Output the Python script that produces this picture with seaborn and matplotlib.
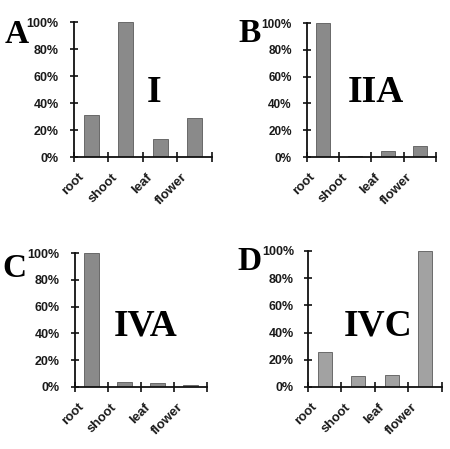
import matplotlib
matplotlib.use("Agg")
import matplotlib.pyplot as plt
import matplotlib.transforms as mtrans
import seaborn as sns
import pandas as pd

sns.set_style("white")
plt.rcParams['font.family'] = ['Liberation Sans', 'DejaVu Sans']
plt.rcParams['text.color'] = 'black'
plt.rcParams['xtick.color'] = '#111111'
plt.rcParams['ytick.color'] = '#111111'

tissues = ["root", "shoot", "leaf", "flower"]
vals_I = [31, 100, 13, 29]
vals_IIA = [100, 0.5, 4.5, 8.5]
vals_IVA = [100, 3.5, 3, 1.5]
vals_IVC = [26, 8, 9, 100]
letters = ["A", "B", "C", "D"]
names = ["I", "IIA", "IVA", "IVC"]
yticks = [0, 20, 40, 60, 80, 100]

panels = [vals_I, vals_IIA, vals_IVA, vals_IVC]
rects = [(0.1644, 0.6503, 0.3067, 0.3007),
         (0.6822, 0.6503, 0.2867, 0.2984),
         (0.1667, 0.1381, 0.2933, 0.2984),
         (0.6844, 0.1381, 0.2978, 0.3029)]
colors = ["#8a8a8a", "#8a8a8a", "#8a8a8a", "#a2a2a2"]
fsizes = [9, 8.5, 9, 9]
pads = [8, 8, 8, 7]
letter_pos = [(5, 43), (238, 42), (2, 277), (237, 270)]
name_pos = [(147, 102), (348, 102), (114, 335), (344, 335)]

W, H = 450, 449
fig = plt.figure(figsize=(4.5, 4.49), dpi=100)

for i, vals in enumerate(panels):
    ax = fig.add_axes(rects[i])
    df = pd.DataFrame({"tissue": tissues, "value": vals})
    sns.barplot(data=df, x="tissue", y="value", ax=ax, color=colors[i],
                edgecolor="#5a5a5a", linewidth=0.6, width=0.43, saturation=1)
    ax.set_xlim(-0.5, 3.5)
    ax.set_ylim(0, 100)
    ax.set_xlabel("")
    ax.set_ylabel("")
    for s in ["top", "right"]:
        ax.spines[s].set_visible(False)
    for s in ["left", "bottom"]:
        ax.spines[s].set_color("#111111")
        ax.spines[s].set_linewidth(1.3)
    fs = fsizes[i]
    ax.set_yticks(yticks)
    ax.set_yticklabels([f"{t}%" for t in yticks], fontsize=fs,
                       fontweight="bold", color="#1a1a1a")
    ax.tick_params(axis="y", direction="inout", length=6, width=1.2,
                   pad=pads[i], left=True)
    ax.set_xticks([0, 1, 2, 3])
    ax.set_xticklabels(tissues, fontsize=9.5, fontweight="bold", rotation=45,
                       ha="right", va="top", rotation_mode="anchor",
                       color="#1a1a1a")
    ax.tick_params(axis="x", which="major", length=0, pad=10)
    ax.set_xticks([-0.5, 0.5, 1.5, 2.5, 3.5], minor=True)
    ax.tick_params(axis="x", which="minor", direction="inout", length=7,
                   width=1.2, bottom=True)
    off = mtrans.ScaledTranslation(-10 / 72, 0, fig.dpi_scale_trans)
    for lab in ax.get_xticklabels():
        lab.set_transform(lab.get_transform() + off)

    lx, ly = letter_pos[i]
    fig.text(lx / W, 1 - ly / H, letters[i], fontsize=24, fontweight="bold",
             family="Liberation Serif", ha="left", va="baseline", color="black")
    nx, ny = name_pos[i]
    fig.text(nx / W, 1 - ny / H, names[i], fontsize=27, fontweight="bold",
             family="Liberation Serif", ha="left", va="baseline", color="black")

fig.savefig("out.png", dpi=100)
